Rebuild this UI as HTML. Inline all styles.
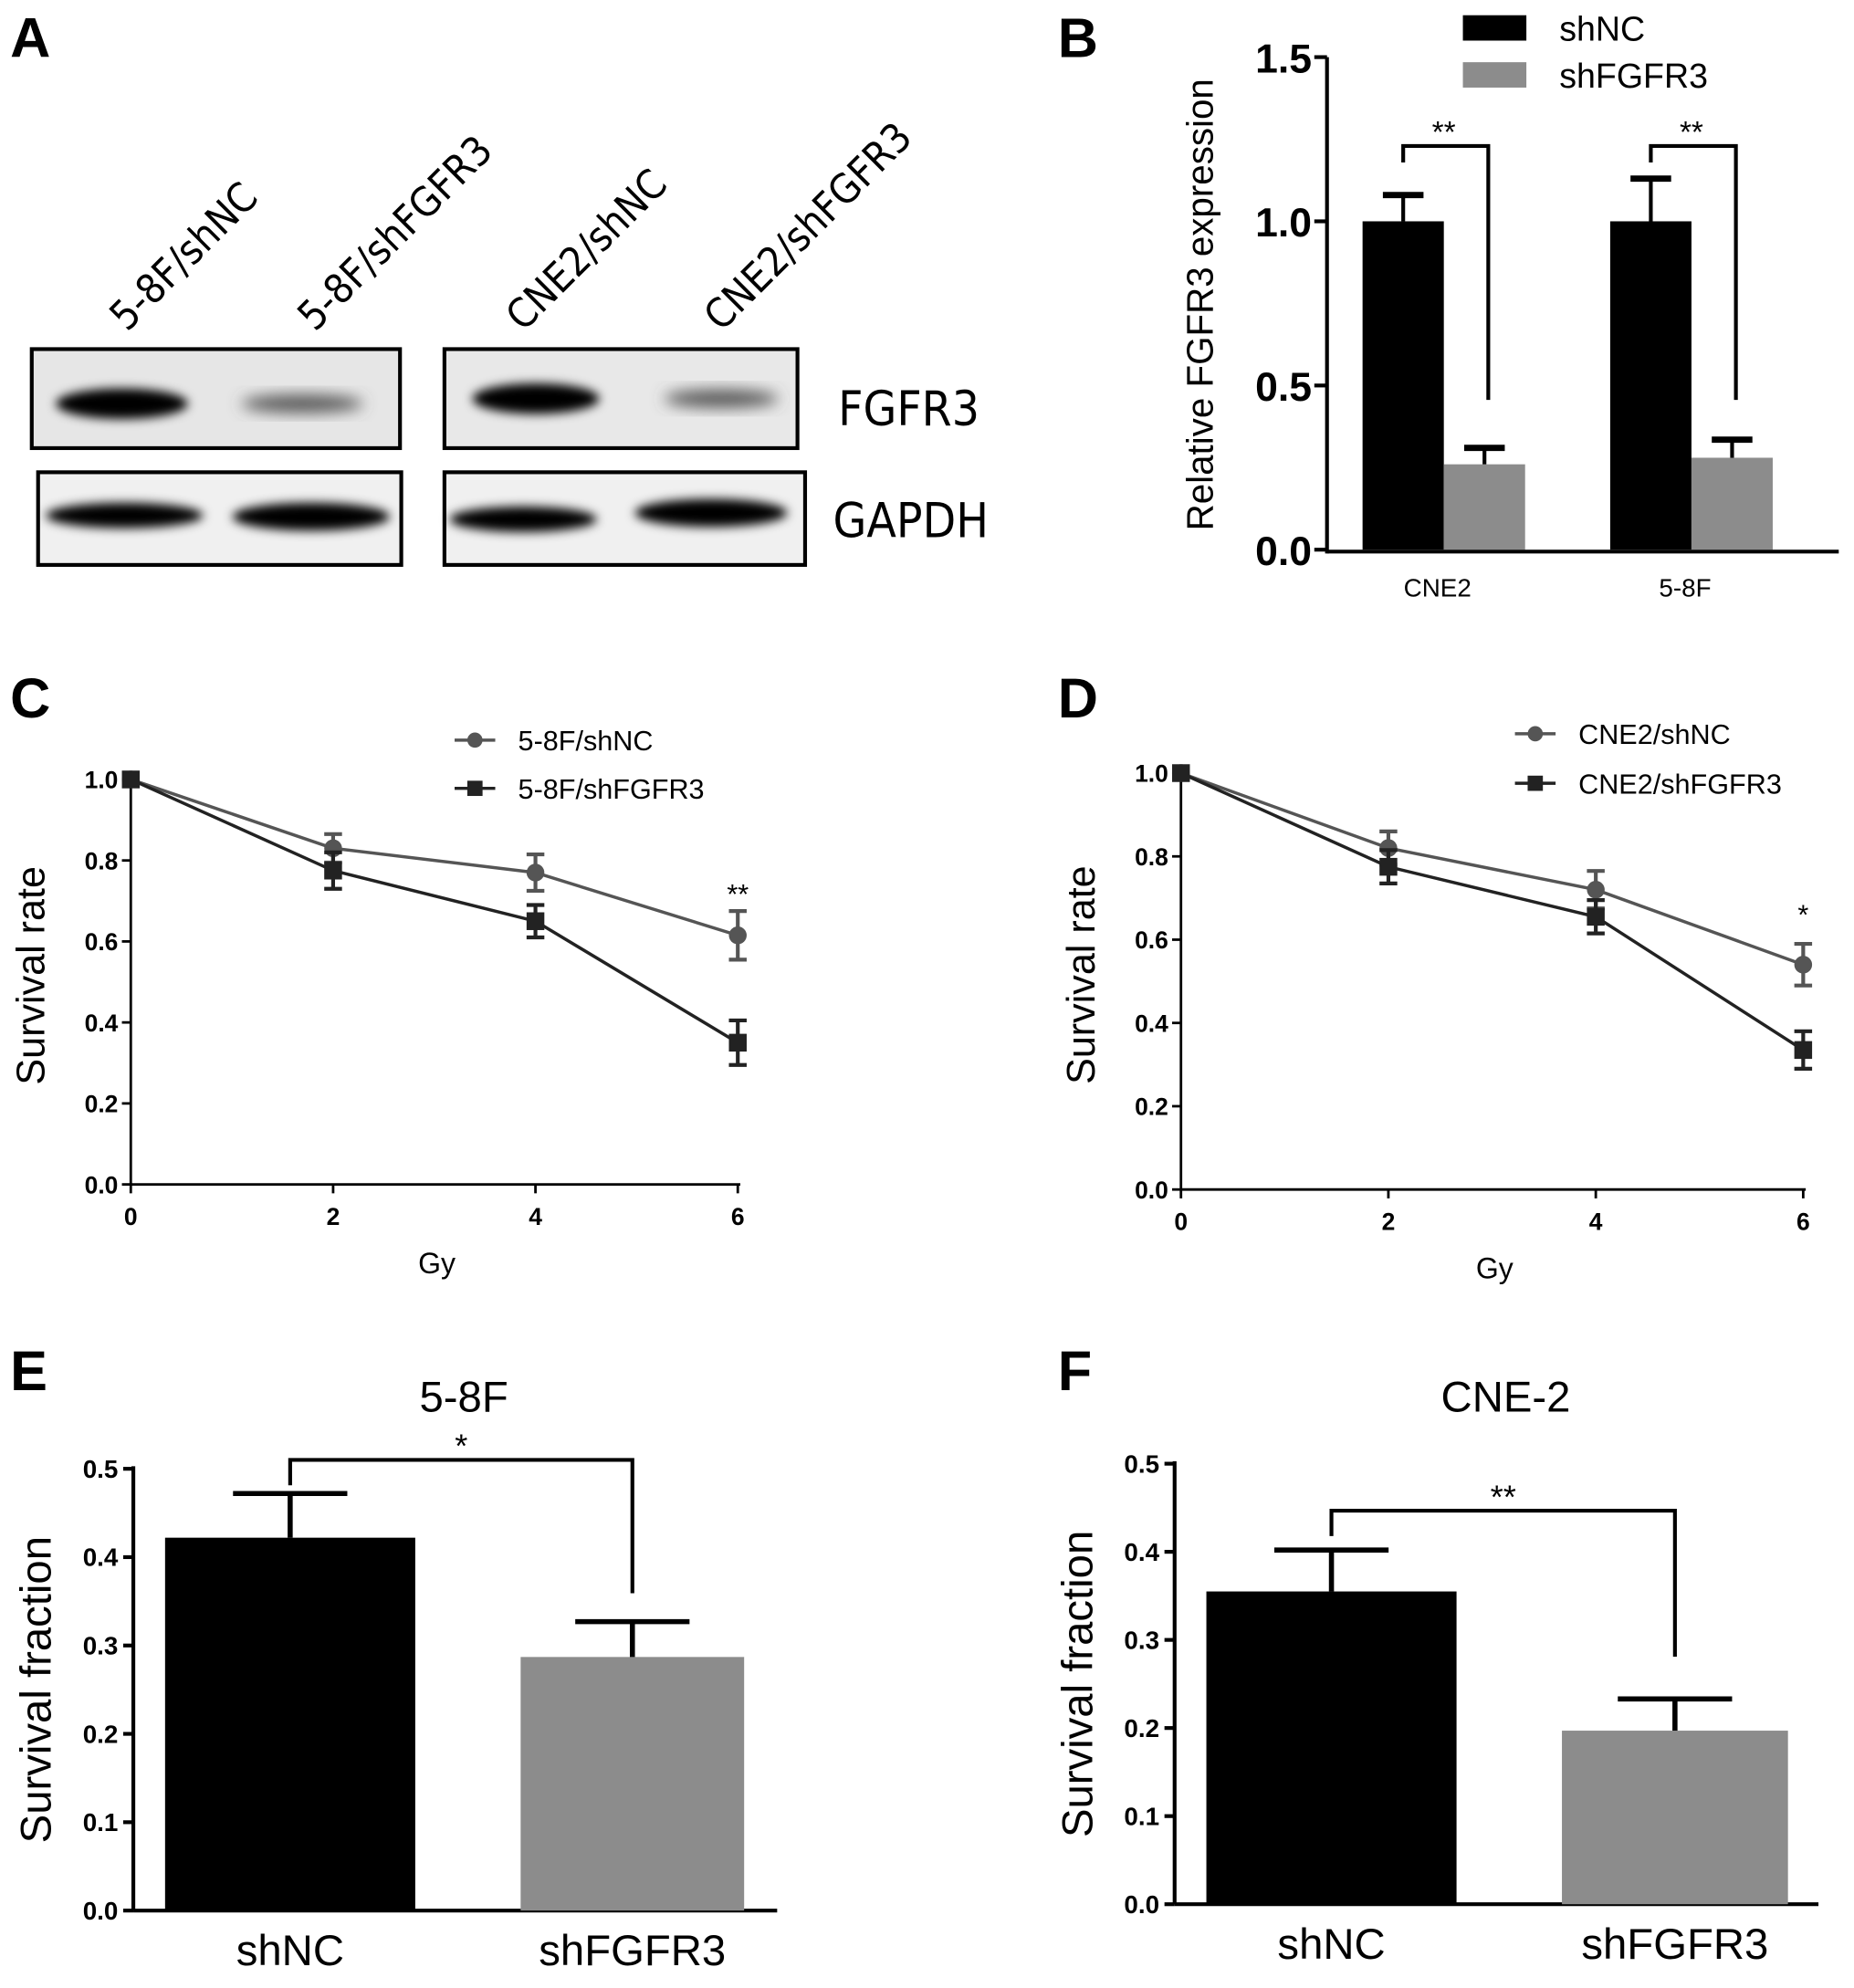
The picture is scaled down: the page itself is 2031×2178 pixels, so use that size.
<!DOCTYPE html>
<html><head><meta charset="utf-8"><style>
html,body{margin:0;padding:0;background:#fff;}
svg{display:block;font-family:"Liberation Sans",Arial,sans-serif;}
</style></head><body>
<svg id="fig" width="2031" height="2178" viewBox="0 0 1460 1566" preserveAspectRatio="none" xmlns="http://www.w3.org/2000/svg">
<defs>
<filter id="blur" x="-20%" y="-50%" width="140%" height="200%"><feGaussianBlur stdDeviation="4"/></filter>
<filter id="blur2" x="-20%" y="-50%" width="140%" height="200%"><feGaussianBlur stdDeviation="6"/></filter>
</defs>
<g font-weight="bold" font-size="44" fill="#000">
<text x="8" y="45">A</text>
<text x="833" y="45">B</text>
<text x="8" y="565">C</text>
<text x="833" y="565">D</text>
<text x="8" y="1095">E</text>
<text x="833" y="1095">F</text>
</g>
<!-- Panel A western blot -->
<g font-family="'DejaVu Sans Condensed','Liberation Sans Narrow',sans-serif">
<g font-size="32" fill="#000">
<text transform="translate(100,262) rotate(-45)">5-8F/shNC</text>
<text transform="translate(248,262) rotate(-45)">5-8F/shFGFR3</text>
<text transform="translate(412,262) rotate(-45)">CNE2/shNC</text>
<text transform="translate(568,262) rotate(-45)">CNE2/shFGFR3</text>
</g>
<rect x="25" y="275" width="290" height="78" fill="#e6e6e6" stroke="#000" stroke-width="3"/>
<rect x="350" y="275" width="278" height="78" fill="#e8e8e8" stroke="#000" stroke-width="3"/>
<rect x="30" y="372" width="286" height="73" fill="#f0f0f0" stroke="#000" stroke-width="3"/>
<rect x="350" y="372" width="284" height="73" fill="#f0f0f0" stroke="#000" stroke-width="3"/>
<ellipse cx="96" cy="318" rx="52" ry="12" fill="#000" filter="url(#blur)"/>
<ellipse cx="238" cy="318" rx="48" ry="7" fill="#555" filter="url(#blur2)"/>
<ellipse cx="422" cy="314" rx="50" ry="12" fill="#000" filter="url(#blur)"/>
<ellipse cx="568" cy="314" rx="45" ry="7" fill="#555" filter="url(#blur2)"/>
<ellipse cx="98" cy="406" rx="62" ry="10" fill="#000" filter="url(#blur)"/>
<ellipse cx="245" cy="407" rx="62" ry="11" fill="#000" filter="url(#blur)"/>
<ellipse cx="412" cy="409" rx="58" ry="10" fill="#000" filter="url(#blur)"/>
<ellipse cx="560" cy="404" rx="60" ry="11" fill="#000" filter="url(#blur)"/>
<text x="660" y="335" font-size="38">FGFR3</text>
<text x="656" y="423" font-size="38">GAPDH</text>
</g>
<g id="charts"></g>
</svg>
<script>
// Panel B data
const bCats = ["CNE2","5-8F"];
const bShNC = [1.0, 1.0];
const bShNCErr = [0.08, 0.13];
const bShFGFR3 = [0.26, 0.28];
const bShFGFR3Err = [0.05, 0.055];
const bTicks = [0.0, 0.5, 1.0, 1.5];
// Panel C data
const cX = [0, 2, 4, 6];
const cShNC = [1.0, 0.83, 0.77, 0.615];
const cShNCErr = [0, 0.035, 0.045, 0.06];
const cShFGFR3 = [1.0, 0.775, 0.65, 0.35];
const cShFGFR3Err = [0, 0.045, 0.04, 0.055];
// Panel D data
const dX = [0, 2, 4, 6];
const dShNC = [1.0, 0.82, 0.72, 0.54];
const dShNCErr = [0, 0.04, 0.045, 0.05];
const dShFGFR3 = [1.0, 0.775, 0.655, 0.335];
const dShFGFR3Err = [0, 0.04, 0.04, 0.045];
const lineTicksY = [0.0, 0.2, 0.4, 0.6, 0.8, 1.0];
const lineTicksX = [0, 2, 4, 6];
// Panel E/F data
const efCats = ["shNC", "shFGFR3"];
const eVals = [0.422, 0.287];
const eErr = [0.05, 0.04];
const fVals = [0.355, 0.197];
const fErr = [0.047, 0.036];
const efTicks = [0.0, 0.1, 0.2, 0.3, 0.4, 0.5];

const NS = "http://www.w3.org/2000/svg";
const root = document.getElementById("charts");
function mk(tag, attrs, parent, text) {
  const e = document.createElementNS(NS, tag);
  for (const k in attrs) e.setAttribute(k, attrs[k]);
  if (text !== undefined) e.textContent = text;
  (parent || root).appendChild(e);
  return e;
}
function line(p, x1, y1, x2, y2, w, c) { return mk("line", {x1, y1, x2, y2, stroke: c || "#000", "stroke-width": w || 3}, p); }

// ---------- Panel B ----------
(function(){
  const g = mk("g", {});
  
  
  const ax = 1045, y0 = 433, yTop = 45, vmax = 1.5;
  const Y = v => y0 - (v / vmax) * (y0 - yTop);
  const groupX = [1137, 1332]; const bw = 64;
  bCats.forEach((c, i) => {
    const cx = groupX[i];
    const r1 = mk("rect", {x: cx - bw, y: Y(bShNC[i]), width: bw, height: y0 - Y(bShNC[i]), fill: "#000"}, g);
    
    
    line(g, cx - bw/2, Y(bShNC[i]), cx - bw/2, Y(bShNC[i] + bShNCErr[i]), 3);
    line(g, cx - bw/2 - 16, Y(bShNC[i] + bShNCErr[i]), cx - bw/2 + 16, Y(bShNC[i] + bShNCErr[i]), 5);
    const r2 = mk("rect", {x: cx, y: Y(bShFGFR3[i]), width: bw, height: y0 - Y(bShFGFR3[i]), fill: "#8c8c8c"}, g);
    
    
    line(g, cx + bw/2, Y(bShFGFR3[i]), cx + bw/2, Y(bShFGFR3[i] + bShFGFR3Err[i]), 3);
    line(g, cx + bw/2 - 16, Y(bShFGFR3[i] + bShFGFR3Err[i]), cx + bw/2 + 16, Y(bShFGFR3[i] + bShFGFR3Err[i]), 5);
    const br = mk("path", {d: `M${cx-bw/2},128 V115 H${cx+bw/2+3} V315`, fill: "none", stroke: "#000", "stroke-width": 3}, g);
    
    
    const st = mk("text", {x: cx, y: 112, "font-size": 24, "text-anchor": "middle"}, g, "**");
    
    
    const lb = mk("text", {x: cx - 5, y: 470, "font-size": 20, "text-anchor": "middle"}, g, c);
    
    
  });
  line(g, ax, y0 + 1.5, 1448, y0 + 1.5, 3);
  line(g, ax, yTop, ax, y0 + 3, 3);
  bTicks.forEach(t => {
    line(g, ax - 10, Y(t), ax, Y(t), 3);
    const tl = mk("text", {x: ax - 12, y: Y(t) + 12, "font-size": 32, "text-anchor": "end", "font-weight": "bold"}, g, t.toFixed(1));
    
    
  });
  const yt = mk("text", {transform: "translate(955,240) rotate(-90)", "font-size": 29, "text-anchor": "middle"}, g, "Relative FGFR3 expression");
  
  
  const l1 = mk("rect", {x: 1152, y: 12, width: 50, height: 20, fill: "#000"}, g);
  
  
  const l2 = mk("rect", {x: 1152, y: 49, width: 50, height: 20, fill: "#8c8c8c"}, g);
  
  
  const t1 = mk("text", {x: 1228, y: 32, "font-size": 27}, g, "shNC");
  
  
  const t2 = mk("text", {x: 1228, y: 69, "font-size": 27}, g, "shFGFR3");
  
  
})();

// ---------- Line panels ----------
function linePanel(cfg) {
  const g = mk("g", {});
  
  
  const X = v => cfg.ax + (v / 6) * (cfg.x6 - cfg.ax);
  const Y = v => cfg.y0 - v * (cfg.y0 - cfg.y1);
  line(g, cfg.ax, cfg.y0, cfg.x6 + 2, cfg.y0, 2);
  line(g, cfg.ax, cfg.y1 - 2, cfg.ax, cfg.y0, 2);
  lineTicksY.forEach(t => {
    line(g, cfg.ax - 7, Y(t), cfg.ax, Y(t), 2);
    const tl = mk("text", {x: cfg.ax - 10, y: Y(t) + 7, "font-size": 19, "font-weight": "bold", "text-anchor": "end"}, g, t.toFixed(1));
    
    
  });
  lineTicksX.forEach(t => {
    line(g, X(t), cfg.y0, X(t), cfg.y0 + 7, 2);
    const tl = mk("text", {x: X(t), y: cfg.y0 + 32, "font-size": 19, "font-weight": "bold", "text-anchor": "middle"}, g, String(t));
    
    
  });
  const series = [
    {vals: cfg.nc, err: cfg.ncErr, color: "#555", shape: "circle", label: cfg.labels[0]},
    {vals: cfg.fg, err: cfg.fgErr, color: "#222", shape: "square", label: cfg.labels[1]}
  ];
  series.forEach((s, si) => {
    const pts = cfg.xs.map((x, i) => X(x) + "," + Y(s.vals[i])).join(" ");
    const pl = mk("polyline", {points: pts, fill: "none", stroke: s.color, "stroke-width": 2.5}, g);
    
    
    cfg.xs.forEach((x, i) => {
      const cx = X(x), cy = Y(s.vals[i]), e = s.err[i];
      if (e > 0) {
        line(g, cx, Y(s.vals[i] - e), cx, Y(s.vals[i] + e), 3, s.color);
        line(g, cx - 7, Y(s.vals[i] + e), cx + 7, Y(s.vals[i] + e), 3, s.color);
        line(g, cx - 7, Y(s.vals[i] - e), cx + 7, Y(s.vals[i] - e), 3, s.color);
      }
      let m;
      if (s.shape === "circle") m = mk("circle", {cx, cy, r: 7, fill: s.color}, g);
      else m = mk("rect", {x: cx - 7, y: cy - 7, width: 14, height: 14, fill: s.color}, g);
      
      
    });
    const ly = cfg.legY[si];
    line(g, cfg.legX, ly, cfg.legX + 32, ly, 2.5, s.color);
    if (s.shape === "circle") mk("circle", {cx: cfg.legX + 16, cy: ly, r: 6, fill: s.color}, g);
    else mk("rect", {x: cfg.legX + 10, y: ly - 6, width: 12, height: 12, fill: s.color}, g);
    const lt = mk("text", {x: cfg.legX + 50, y: ly + 8, "font-size": 22}, g, s.label);
    
    
  });
  const st = mk("text", {x: X(6), y: cfg.starY, "font-size": 22, "text-anchor": "middle"}, g, cfg.star);
  
  
  const xt = mk("text", {x: (cfg.ax + cfg.x6) / 2 + 2, y: cfg.y0 + 70, "font-size": 23, "text-anchor": "middle"}, g, "Gy");
  
  
  const yt = mk("text", {transform: `translate(${cfg.ax - 68},${(cfg.y0 + cfg.y1) / 2 - 5}) rotate(-90)`, "font-size": 31, "text-anchor": "middle"}, g, "Survival rate");
  
  
}
linePanel({name: "panel-c-line-chart", ax: 103, x6: 581, y0: 933, y1: 614, xs: cX, nc: cShNC, ncErr: cShNCErr, fg: cShFGFR3, fgErr: cShFGFR3Err, labels: ["5-8F/shNC", "5-8F/shFGFR3"], legX: 358, legY: [583, 621], star: "**", starY: 712});
linePanel({name: "panel-d-line-chart", ax: 930, x6: 1420, y0: 937, y1: 609, xs: dX, nc: dShNC, ncErr: dShNCErr, fg: dShFGFR3, fgErr: dShFGFR3Err, labels: ["CNE2/shNC", "CNE2/shFGFR3"], legX: 1193, legY: [578, 617], star: "*", starY: 728});

// ---------- Bar panels E/F ----------
function barPanel(cfg) {
  const g = mk("g", {});
  
  
  const Y = v => cfg.y0 - (v / 0.5) * (cfg.y0 - cfg.y1);
  line(g, cfg.ax, cfg.y0, cfg.axEnd, cfg.y0, 3);
  line(g, cfg.ax, cfg.y1 - 2, cfg.ax, cfg.y0, 3);
  efTicks.forEach(t => {
    line(g, cfg.ax - 8, Y(t), cfg.ax, Y(t), 3);
    const tl = mk("text", {x: cfg.ax - 12, y: Y(t) + 7, "font-size": 20, "font-weight": "bold", "text-anchor": "end"}, g, t.toFixed(1));
    
    
  });
  const colors = ["#000", "#8c8c8c"];
  efCats.forEach((c, i) => {
    const [x0, x1] = cfg.bars[i];
    const v = cfg.vals[i], e = cfg.err[i];
    const r = mk("rect", {x: x0, y: Y(v), width: x1 - x0, height: cfg.y0 - Y(v), fill: colors[i]}, g);
    
    
    const cx = (x0 + x1) / 2;
    line(g, cx, Y(v), cx, Y(v + e), 4);
    line(g, cx - 45, Y(v + e), cx + 45, Y(v + e), 4);
    const lb = mk("text", {x: cx, y: cfg.y0 + 43, "font-size": 34, "text-anchor": "middle"}, g, c);
    
    
  });
  const bx1 = (cfg.bars[0][0] + cfg.bars[0][1]) / 2, bx2 = (cfg.bars[1][0] + cfg.bars[1][1]) / 2;
  const br = mk("path", {d: `M${bx1},${cfg.brTop + 20} V${cfg.brTop} H${bx2} V${cfg.brBottom}`, fill: "none", stroke: "#000", "stroke-width": 3}, g);
  
  
  const st = mk("text", {x: (bx1 + bx2) / 2, y: cfg.brTop - 2, "font-size": 26, "text-anchor": "middle"}, g, cfg.star);
  
  
  const tt = mk("text", {x: (bx1 + bx2) / 2 + 2, y: 1112, "font-size": 34, "text-anchor": "middle"}, g, cfg.title);
  
  
  const yt = mk("text", {transform: `translate(${cfg.ax - 65},${(cfg.y0 + cfg.y1) / 2}) rotate(-90)`, "font-size": 34, "text-anchor": "middle"}, g, "Survival fraction");
  
  
}
barPanel({name: "panel-e-bar-chart", ax: 105, axEnd: 612, y0: 1505, y1: 1157, bars: [[130, 327], [410, 586]], vals: eVals, err: eErr, brTop: 1150, brBottom: 1255, star: "*", title: "5-8F"});
barPanel({name: "panel-f-bar-chart", ax: 925, axEnd: 1432, y0: 1500, y1: 1153, bars: [[950, 1147], [1230, 1408]], vals: fVals, err: fErr, brTop: 1190, brBottom: 1305, star: "**", title: "CNE-2"});
</script>
</body></html>
